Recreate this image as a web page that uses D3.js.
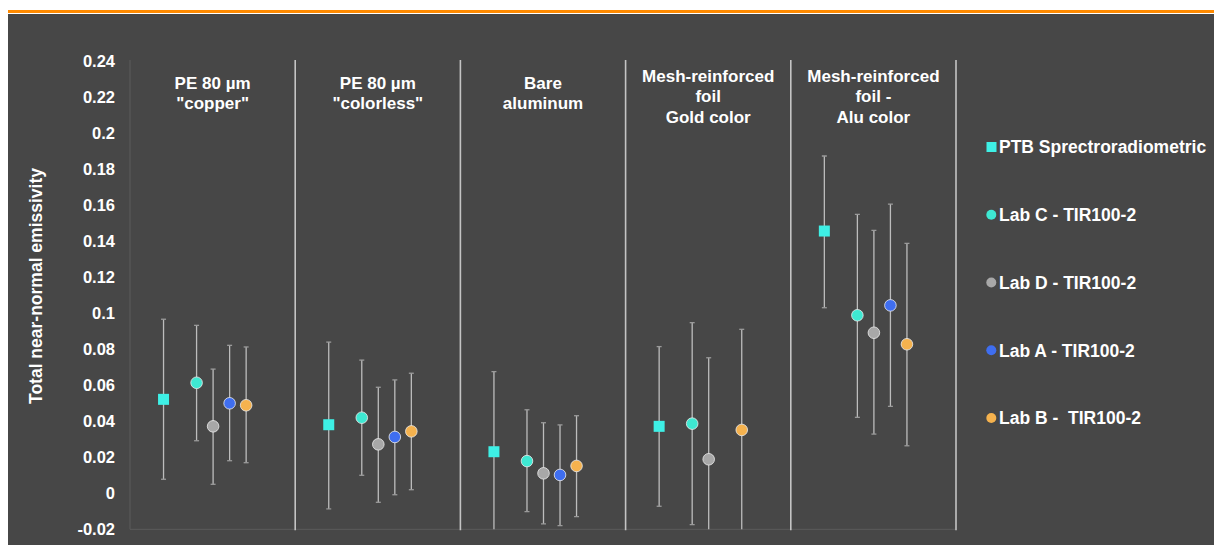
<!DOCTYPE html>
<html><head><meta charset="utf-8">
<script src="https://cdn.jsdelivr.net/npm/d3@7"></script>
<style>
html,body{margin:0;padding:0;background:#fff;}
svg{display:block;}
text{font-family:"Liberation Sans",Arial,sans-serif;font-weight:bold;fill:#fff;white-space:pre;}
</style></head>
<body>
<svg id="chart" width="1214" height="545"></svg>
<script>
const categories = [
  ["PE 80 µm", "\"copper\""],
  ["PE 80 µm", "\"colorless\""],
  ["Bare", "aluminum"],
  ["Mesh-reinforced", "foil", "Gold color"],
  ["Mesh-reinforced", "foil -", "Alu color"]
];
const seriesNames = ["PTB Sprectroradiometric", "Lab C - TIR100-2", "Lab D - TIR100-2", "Lab A - TIR100-2", "Lab B -  TIR100-2"];
const seriesColors = ["#3ef0e6", "#3ee8d2", "#a8a8a8", "#3f6ef0", "#f5b24e"];
const seriesShapes = ["square", "circle", "circle", "circle", "circle"];
// values per series, per category (null = not measured)
const ptbValue  = [0.0522, 0.0381, 0.0231, 0.0372, 0.1457];
const ptbLow    = [0.0078, -0.0087, -0.0215, -0.0072, 0.1031];
const ptbHigh   = [0.0967, 0.0840, 0.0676, 0.0815, 0.1874];
const labCValue = [0.0614, 0.0420, 0.0179, 0.0387, 0.0989];
const labCLow   = [0.0292, 0.0100, -0.0102, -0.0174, 0.0422];
const labCHigh  = [0.0933, 0.0740, 0.0464, 0.0948, 0.1550];
const labDValue = [0.0372, 0.0272, 0.0111, 0.0189, 0.0892];
const labDLow   = [0.0050, -0.0050, -0.0170, -0.0215, 0.0329];
const labDHigh  = [0.0690, 0.0589, 0.0392, 0.0753, 0.1461];
const labAValue = [0.0500, 0.0313, 0.0102, null, 0.1044];
const labALow   = [0.0181, -0.0008, -0.0180, null, 0.0483];
const labAHigh  = [0.0822, 0.0630, 0.0380, null, 0.1607];
const labBValue = [0.0489, 0.0344, 0.0152, 0.0352, 0.0828];
const labBLow   = [0.0170, 0.0020, -0.0130, -0.0215, 0.0264];
const labBHigh  = [0.0813, 0.0667, 0.0431, 0.0911, 0.1389];
const yTicks = [-0.02, 0, 0.02, 0.04, 0.06, 0.08, 0.1, 0.12, 0.14, 0.16, 0.18, 0.2, 0.22, 0.24];
const yTickLabels = ["-0.02", "0", "0.02", "0.04", "0.06", "0.08", "0.1", "0.12", "0.14", "0.16", "0.18", "0.2", "0.22", "0.24"];
const yTitle = "Total near-normal emissivity";

const series = [
  {v: ptbValue, lo: ptbLow, hi: ptbHigh},
  {v: labCValue, lo: labCLow, hi: labCHigh},
  {v: labDValue, lo: labDLow, hi: labDHigh},
  {v: labAValue, lo: labALow, hi: labAHigh},
  {v: labBValue, lo: labBLow, hi: labBHigh}
];
const slotIndex = [2, 4, 5, 6, 7]; // position slots within each panel (10 slots)

const svg = d3.select("#chart");
svg.append("rect").attr("x", 8).attr("y", 14).attr("width", 1206).attr("height", 531).attr("fill", "#474747");
svg.append("rect").attr("x", 8).attr("y", 10).attr("width", 1206).attr("height", 3).attr("fill", "#ff8a00");

const plotL = 130, plotR = 956, plotT = 60, plotB = 529.3;
const y = d3.scaleLinear().domain([-0.02, 0.24]).range([plotB, 61.3]);
const x = d3.scaleBand().domain(d3.range(categories.length)).range([plotL, plotR]).padding(0);
const slot = d3.scaleLinear().domain([0, 10]).range([0, x.bandwidth()]);

const defs = svg.append("defs");
defs.append("clipPath").attr("id", "clip").append("rect")
  .attr("x", plotL).attr("y", plotT).attr("width", plotR - plotL).attr("height", plotB - plotT);

// frame
svg.append("line").attr("x1", plotL).attr("x2", plotL).attr("y1", plotT).attr("y2", plotB).attr("stroke", "#5c5c5c").attr("stroke-width", 1);
svg.append("line").attr("x1", plotL).attr("x2", plotR).attr("y1", plotB).attr("y2", plotB).attr("stroke", "#5c5c5c").attr("stroke-width", 1);

// separators
svg.append("g").selectAll("line").data(d3.range(1, categories.length + 1)).join("line")
  .attr("x1", d => x(d) !== undefined ? x(d) : plotR)
  .attr("x2", d => x(d) !== undefined ? x(d) : plotR)
  .attr("y1", plotT).attr("y2", plotB + 1)
  .attr("stroke", "#c4c4c4").attr("stroke-width", 1.6);

// y axis
const yAxis = d3.axisLeft(y).tickValues(yTicks).tickFormat((d, i) => yTickLabels[i]).tickSize(0).tickPadding(0);
const ga = svg.append("g").attr("transform", `translate(${plotL - 15},0)`).call(yAxis);
ga.select(".domain").remove();
ga.selectAll("text").attr("font-size", 16.5).attr("fill", "#fff").attr("font-family", "'Liberation Sans', Arial, sans-serif").attr("font-weight", "bold");

svg.append("text").attr("transform", `translate(42,286) rotate(-90)`)
  .attr("text-anchor", "middle").attr("font-size", 17.5).text(yTitle);

// category titles
categories.forEach((lines, i) => {
  const cx = x(i) + x.bandwidth() / 2;
  const startY = lines.length === 3 ? 82 : 88.5;
  const t = svg.append("text").attr("text-anchor", "middle").attr("font-size", 17);
  lines.forEach((ln, k) => {
    t.append("tspan").attr("x", cx).attr("y", startY + k * 20.3).text(ln);
  });
});

// error bars and markers
const gData = svg.append("g").attr("clip-path", "url(#clip)");
series.forEach((s, si) => {
  categories.forEach((c, ci) => {
    if (s.v[ci] === null) return;
    const cx = x(ci) + slot(slotIndex[si]) + 0.5;
    gData.append("line").attr("x1", cx).attr("x2", cx)
      .attr("y1", y(s.hi[ci])).attr("y2", y(s.lo[ci]))
      .attr("stroke", "#bdbdbd").attr("stroke-width", 1.3);
    [s.hi[ci], s.lo[ci]].forEach(e => {
      gData.append("line").attr("x1", cx - 2.5).attr("x2", cx + 2.5)
        .attr("y1", y(e)).attr("y2", y(e)).attr("stroke", "#9a9a9a").attr("stroke-width", 1.3);
    });
  });
});
series.forEach((s, si) => {
  categories.forEach((c, ci) => {
    if (s.v[ci] === null) return;
    const cx = x(ci) + slot(slotIndex[si]) + 0.5;
    const cy = y(s.v[ci]);
    if (seriesShapes[si] === "square") {
      gData.append("rect").attr("x", cx - 5.5).attr("y", cy - 5.5).attr("width", 11).attr("height", 11)
        .attr("fill", seriesColors[si]);
    } else {
      gData.append("circle").attr("cx", cx).attr("cy", cy).attr("r", 5.8)
        .attr("fill", seriesColors[si]).attr("stroke", "#ededed").attr("stroke-width", 0.8);
    }
  });
});

// legend
const legY = d3.scalePoint().domain(d3.range(seriesNames.length)).range([147, 418]);
const leg = svg.append("g");
seriesNames.forEach((n, i) => {
  const ly = legY(i);
  if (seriesShapes[i] === "square") {
    leg.append("rect").attr("x", 986.5).attr("y", ly - 5).attr("width", 10).attr("height", 10).attr("fill", seriesColors[i]);
  } else {
    leg.append("circle").attr("cx", 991.3).attr("cy", ly).attr("r", 5).attr("fill", seriesColors[i]);
  }
  leg.append("text").attr("x", 999).attr("y", ly).attr("dy", "0.36em").attr("font-size", 17.5)
    .attr("xml:space", "preserve").text(n);
});
</script>
</body></html>
